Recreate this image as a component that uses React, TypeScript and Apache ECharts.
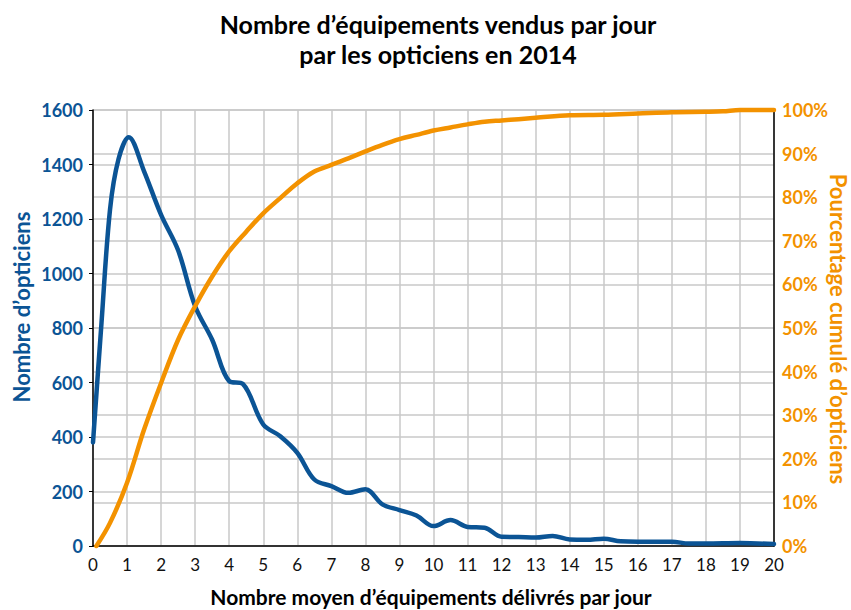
import React, { useEffect, useRef } from "react";
import * as echarts from "echarts";

const titleLines = ["Nombre d’équipements vendus par jour", "par les opticiens en 2014"];
const xAxisName = "Nombre moyen d’équipements délivrés par jour";
const leftAxisName = "Nombre d’opticiens";
const rightAxisName = "Pourcentage cumulé d’opticiens";

const countX = [0, 0.25, 0.5, 0.75, 1.05, 1.5, 2, 2.5, 3, 3.5, 4, 4.4, 5, 5.5, 6, 6.5, 7, 7.5, 8, 8.5, 9, 9.5, 10, 10.5, 11, 11.5, 12, 12.5, 13, 13.5, 14, 14.5, 15, 15.5, 16, 17, 17.5, 18, 19, 20];
const countY = [380, 820, 1235, 1420, 1500, 1375, 1215, 1085, 880, 757, 605, 595, 446, 403, 342, 244, 220, 195, 208, 153, 132, 112, 73, 95, 70, 67, 34, 33, 31, 37, 24, 23, 27, 17, 16, 16, 9, 9, 11, 7];

const cumX = [0.1, 0.5, 1, 1.5, 2, 2.5, 3, 3.5, 4, 4.5, 5, 5.5, 6, 6.5, 7, 7.5, 8, 8.5, 9, 9.5, 10, 10.5, 11, 11.5, 12, 12.5, 13, 14, 15, 16, 17, 18, 18.5, 19, 20];
const cumY = [0, 5.3, 14.5, 26.7, 37.4, 47.3, 55, 61.8, 67.6, 72.1, 76.3, 79.8, 83.2, 85.9, 87.4, 88.9, 90.5, 92, 93.3, 94.3, 95.3, 96, 96.7, 97.3, 97.6, 97.9, 98.2, 98.8, 98.9, 99.2, 99.5, 99.6, 99.7, 100, 100];

const BLUE = "#0b5495";
const ORANGE = "#f39200";
const GRID = "#c8c8c8";
const FONT = "Lato";

export default function App() {
  const ref = useRef<HTMLDivElement>(null);
  useEffect(() => {
    if (!ref.current) return;
    const chart = echarts.init(ref.current, null, { renderer: "svg" });
    const countData = countX.map((x, i) => [x, countY[i]]);
    const cumData = cumX.map((x, i) => [x, cumY[i]]);
    chart.setOption({
      animation: false,
      backgroundColor: "#ffffff",
      textStyle: { fontFamily: FONT },
      grid: { left: 93, right: 77, top: 110, bottom: 64 },
      title: {
        text: titleLines.join("\n"),
        left: 433,
        top: 4,
        textAlign: "center",
        textStyle: { fontFamily: FONT, fontWeight: "bold", fontSize: 25, color: "#000", lineHeight: 30 },
      },
      xAxis: {
        type: "value",
        min: 0,
        max: 20,
        interval: 1,
        axisLine: { show: true, lineStyle: { color: "#000", width: 1.5 } },
        axisTick: { show: false },
        axisLabel: { color: "#111", fontFamily: FONT, fontSize: 17, margin: 10 },
        splitLine: { show: true, lineStyle: { color: GRID, width: 1.5 } },
      },
      yAxis: [
        {
          type: "value",
          min: 0,
          max: 1600,
          interval: 200,
          position: "left",
          axisLine: { show: true, lineStyle: { color: "#000", width: 1.5 } },
          axisTick: { show: true, length: 4, lineStyle: { color: "#000", width: 1 } },
          axisLabel: { color: BLUE, fontFamily: FONT, fontWeight: "bold", fontSize: 18, margin: 10, formatter: (v: number) => String(v) },
          splitLine: { show: true, lineStyle: { color: GRID, width: 1.5 } },
        },
        {
          type: "value",
          min: 0,
          max: 100,
          interval: 10,
          position: "right",
          axisLine: { show: true, lineStyle: { color: "#000", width: 1.5 } },
          axisTick: { show: false },
          axisLabel: { color: ORANGE, fontFamily: FONT, fontWeight: "bold", fontSize: 18, margin: 8, formatter: "{value}%" },
          splitLine: { show: true, lineStyle: { color: GRID, width: 1.5 } },
        },
      ],
      graphic: [
        {
          type: "text",
          x: 431,
          y: 596,
          style: { text: xAxisName, fill: "#000", font: `bold 21px ${FONT}`, textAlign: "center", textVerticalAlign: "middle" },
        },
        {
          type: "text",
          x: 21,
          y: 307,
          rotation: Math.PI / 2,
          style: { text: leftAxisName, fill: BLUE, font: `bold 22px ${FONT}`, textAlign: "center", textVerticalAlign: "middle" },
        },
        {
          type: "text",
          x: 838,
          y: 329,
          rotation: -Math.PI / 2,
          style: { text: rightAxisName, fill: ORANGE, font: `bold 22px ${FONT}`, textAlign: "center", textVerticalAlign: "middle" },
        },
      ],
      series: [
        {
          type: "line",
          yAxisIndex: 0,
          data: countData,
          smooth: 0.35,
          showSymbol: false,
          clip: false,
          lineStyle: { color: BLUE, width: 4.5, cap: "round", join: "round" },
          itemStyle: { color: BLUE },
        },
        {
          type: "line",
          yAxisIndex: 1,
          data: cumData,
          smooth: 0.35,
          showSymbol: false,
          clip: false,
          lineStyle: { color: ORANGE, width: 4.5, cap: "round", join: "round" },
          itemStyle: { color: ORANGE },
        },
      ],
    });
    return () => chart.dispose();
  }, []);
  return <div ref={ref} style={{ width: 851, height: 610, position: "absolute", left: 0, top: 0 }} />;
}
